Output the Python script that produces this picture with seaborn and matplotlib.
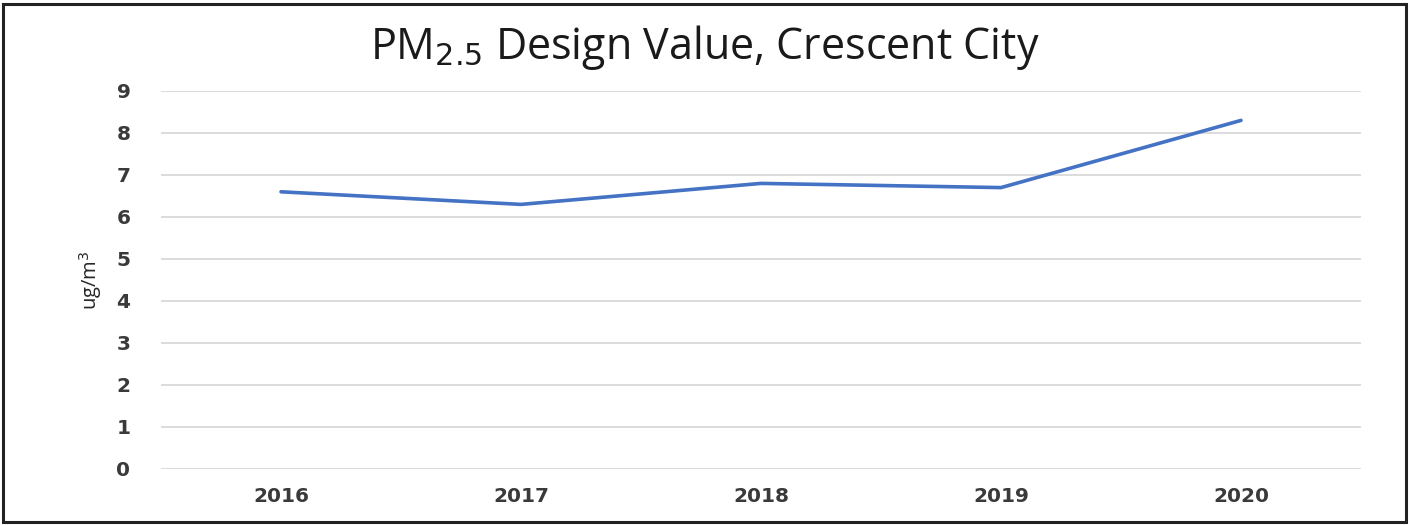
import matplotlib
matplotlib.use("Agg")
import matplotlib.pyplot as plt
import seaborn as sns
import pandas as pd
from matplotlib.patches import Rectangle

years = ["2016", "2017", "2018", "2019", "2020"]
values = [6.6, 6.3, 6.8, 6.7, 8.3]
yticks = list(range(0, 10))

sns.set_theme(style="white")
plt.rcParams['font.family'] = ['Open Sans', 'DejaVu Sans']

df = pd.DataFrame({"year": years, "value": values})

fig = plt.figure(figsize=(14.1, 5.25), dpi=100)
ax = fig.add_axes([161/1410, 1 - 469/525, 1200/1410, 378/525])

sns.lineplot(data=df, x="year", y="value", ax=ax, color="#4472C4",
             linewidth=2.6, sort=False, solid_capstyle="round")

ax.set_xlim(-0.5, len(years) - 0.5)
ax.set_ylim(0, 9)
ax.set_yticks(yticks)
ax.grid(axis="y", color="#D9D9D9", linewidth=1.3)
ax.set_axisbelow(True)
for s in ax.spines.values():
    s.set_visible(False)
ax.tick_params(axis="both", length=0, labelsize=14.5, colors="#3a3a3a")
ax.tick_params(axis="y", pad=22)
ax.tick_params(axis="x", pad=13)
for lbl in ax.get_xticklabels() + ax.get_yticklabels():
    lbl.set_fontweight("bold")
    lbl.set_family(["DejaVu Sans"])
ax.set_xlabel("")
ax.set_ylabel("ug/m$^3$", fontsize=14.5, color="#262626", labelpad=9)

fig.text(0.5, 1 - 47/525, "PM$_{2.5}$ Design Value, Crescent City",
         ha="center", va="center", fontsize=31, color="#1a1a1a")

fig.patches.append(Rectangle((3/1410, 3/525), 1403/1410, 518/525,
                             transform=fig.transFigure, fill=False,
                             edgecolor="#222222", linewidth=2.2))

fig.savefig("out.png", dpi=100)
